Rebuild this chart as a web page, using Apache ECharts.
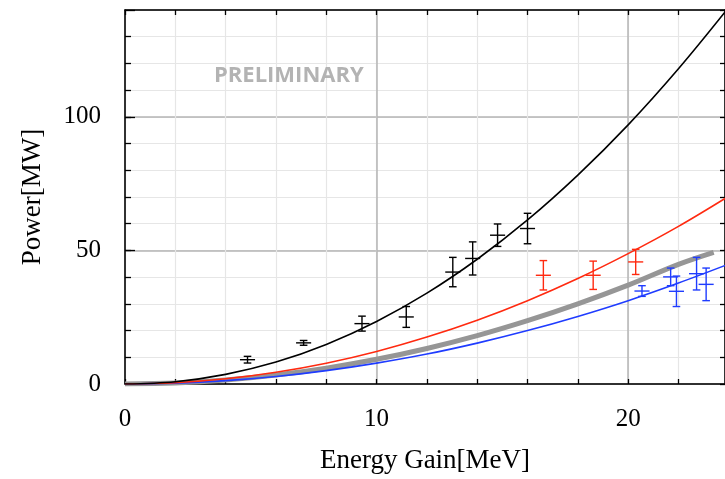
<!DOCTYPE html>
<html>
<head>
<meta charset="utf-8">
<script src="https://cdn.jsdelivr.net/npm/echarts@6/dist/echarts.min.js"></script>
<style>
html,body{margin:0;padding:0;background:#fff;}
#chart{width:725px;height:479px;}
</style>
</head>
<body>
<div id="chart"></div>
<script>
// ---- data ----
const curveX = [0, 2, 4, 6, 8, 10, 12, 14, 16, 18, 20, 22, 24];
const blackCurve = [0, 0.86, 3.6, 8.2, 14.8, 23.4, 34.0, 46.7, 61.4, 78.2, 97.0, 118.0, 141.0];
const redCurve   = [0, 0.49, 1.95, 4.4, 7.8, 12.2, 17.6, 23.9, 31.2, 39.5, 48.8, 59.0, 70.3];
const blueCurve  = [0, 0.31, 1.25, 2.8, 5.0, 7.8, 11.2, 15.3, 20.0, 25.3, 31.2, 37.8, 44.9];
const grayX      = [0, 2, 4, 6, 8, 10, 12, 14, 16, 18, 20, 22, 23.4];
const grayCurve  = [0, 0.37, 1.48, 3.33, 5.92, 9.25, 13.3, 18.1, 23.7, 30.0, 37.0, 44.8, 49.3];

const blackPtsX   = [4.87, 7.1, 9.42, 11.18, 13.03, 13.82, 14.81, 16.0];
const blackPtsY   = [9.1, 15.4, 22.6, 25.1, 41.9, 47.0, 55.7, 58.2];
const blackPtsErr = [1.25, 0.9, 2.8, 3.9, 5.5, 6.2, 4.2, 5.7];
const redPtsX     = [16.63, 18.61, 20.3];
const redPtsY     = [40.7, 40.7, 45.7];
const redPtsErr   = [5.5, 5.3, 4.7];
const bluePtsX    = [20.55, 21.69, 21.92, 22.72, 23.1];
const bluePtsY    = [34.8, 40.1, 34.7, 41.3, 37.3];
const bluePtsErr  = [2.0, 3.3, 5.7, 6.1, 6.1];
const xErr = 0.3;

const xTickLabels = ['0', '10', '20'];
const yTickLabels = ['0', '50', '100'];

const SERIF = '"Liberation Serif", "DejaVu Serif", serif';

function pairs(xs, ys){ return xs.map((x,i)=>[x, ys[i]]); }
function errData(xs, ys, es){ return xs.map((x,i)=>[x, ys[i], es[i]]); }

function errSeries(name, xs, ys, es, color){
  return {
    type: 'custom', name: name, z: 5,
    data: errData(xs, ys, es),
    renderItem: function(params, api){
      const x = api.value(0), y = api.value(1), e = api.value(2);
      const top = api.coord([x, y + e]);
      const bot = api.coord([x, y - e]);
      const l = api.coord([x - xErr, y]);
      const r = api.coord([x + xErr, y]);
      const cap = 3.8;
      const st = {stroke: color, lineWidth: 1.4, fill: null};
      return {type: 'group', children: [
        {type:'line', shape:{x1:top[0],y1:top[1],x2:bot[0],y2:bot[1]}, style: st},
        {type:'line', shape:{x1:top[0]-cap,y1:top[1],x2:top[0]+cap,y2:top[1]}, style: st},
        {type:'line', shape:{x1:bot[0]-cap,y1:bot[1],x2:bot[0]+cap,y2:bot[1]}, style: st},
        {type:'line', shape:{x1:l[0],y1:l[1],x2:r[0],y2:r[1]}, style: st}
      ]};
    }
  };
}

function curve(name, xs, ys, color, width, z){
  return {type:'line', name:name, data: pairs(xs, ys), smooth: 0.35, showSymbol:false,
    lineStyle:{color:color, width:width}, itemStyle:{color:color}, z:z, silent:true};
}

const XMAX = 23.85, YMAX = 140;
const chart = echarts.init(document.getElementById('chart'), null, {renderer:'canvas'});
chart.setOption({
  animation: false,
  backgroundColor: '#fff',
  grid: {left: 125, top: 10, right: 0, bottom: 95},
  graphic: [{
    type: 'text', left: 214, top: 65, z: 1,
    style: {text: 'PRELIMINARY', font: 'bold 22px "Open Sans", "DejaVu Sans", sans-serif', fill: '#b3b3b3'}
  }],
  xAxis: [
    {type:'value', min:0, max:XMAX, interval:2, position:'bottom',
     name:'Energy Gain[MeV]', nameLocation:'middle', nameGap:63,
     nameTextStyle:{fontFamily:SERIF, fontSize:27, color:'#000'},
     axisLine:{show:true, lineStyle:{color:'#000', width:1.5}},
     axisTick:{show:true, inside:true, length:5, lineStyle:{color:'#000', width:1.3}},
     axisLabel:{show:true, margin:23, fontFamily:SERIF, fontSize:25, color:'#000', showMaxLabel:false,
       formatter: function(v){ const i = xTickLabels.indexOf(String(v)); return i>=0 ? xTickLabels[i] : ''; }},
     splitLine:{show:true, lineStyle:{color:'#e6e6e6', width:1.2}}},
    {type:'value', min:0, max:XMAX, interval:10, position:'bottom',
     axisLine:{show:false}, axisTick:{show:false}, axisLabel:{show:false},
     splitLine:{show:true, lineStyle:{color:'#b4b4b4', width:1.5}}},
    {type:'value', min:0, max:XMAX, interval:2, position:'top',
     axisLine:{show:true, onZero:false, lineStyle:{color:'#000', width:1.5}},
     axisTick:{show:true, inside:true, length:5, lineStyle:{color:'#000', width:1.3}},
     axisLabel:{show:false}, splitLine:{show:false}}
  ],
  yAxis: [
    {type:'value', min:0, max:YMAX, interval:10, position:'left',
     name:'Power[MW]', nameLocation:'middle', nameGap:79, nameRotate:90,
     nameTextStyle:{fontFamily:SERIF, fontSize:27, color:'#000'},
     axisLine:{show:true, lineStyle:{color:'#000', width:1.5}},
     axisTick:{show:true, inside:true, length:6, lineStyle:{color:'#000', width:1.3}},
     axisLabel:{show:true, margin:24, fontFamily:SERIF, fontSize:25, color:'#000', showMaxLabel:false,
       formatter: function(v){ const i = yTickLabels.indexOf(String(v)); return i>=0 ? yTickLabels[i] : ''; }},
     splitLine:{show:true, lineStyle:{color:'#e6e6e6', width:1.2}}},
    {type:'value', min:0, max:YMAX, interval:50, position:'left',
     axisLine:{show:false}, axisTick:{show:true, inside:true, length:10, lineStyle:{color:'#000', width:1.3}},
     axisLabel:{show:false},
     splitLine:{show:true, lineStyle:{color:'#b4b4b4', width:1.5}}},
    {type:'value', min:0, max:YMAX, interval:10, position:'right',
     axisLine:{show:true, onZero:false, lineStyle:{color:'#000', width:1.5}},
     axisTick:{show:true, inside:true, length:5, lineStyle:{color:'#000', width:1.3}},
     axisLabel:{show:false}, splitLine:{show:false}}
  ],
  series: [
    curve('gray', grayX, grayCurve, '#969696', 5, 2),
    curve('blue', curveX, blueCurve, '#1f3cff', 1.6, 3),
    curve('red', curveX, redCurve, '#ff2a10', 1.6, 3),
    curve('black', curveX, blackCurve, '#000000', 1.6, 3),
    errSeries('blackPts', blackPtsX, blackPtsY, blackPtsErr, '#000000'),
    errSeries('redPts', redPtsX, redPtsY, redPtsErr, '#ff2a10'),
    errSeries('bluePts', bluePtsX, bluePtsY, bluePtsErr, '#1f3cff')
  ]
});
</script>
</body>
</html>
